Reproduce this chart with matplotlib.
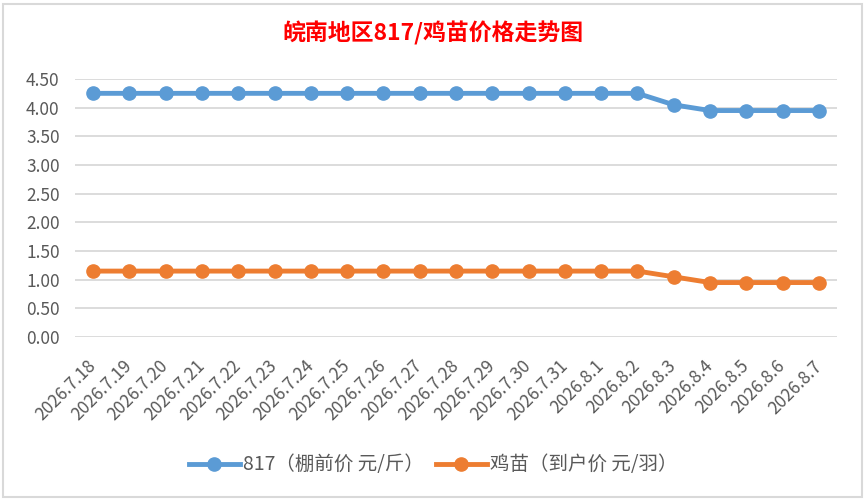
import matplotlib.pyplot as plt
from matplotlib.patches import Rectangle

plt.rcParams['font.family'] = ['Noto Sans CJK SC', 'DejaVu Sans']

# data
dates = ["2026.7.18", "2026.7.19", "2026.7.20", "2026.7.21", "2026.7.22", "2026.7.23",
         "2026.7.24", "2026.7.25", "2026.7.26", "2026.7.27", "2026.7.28", "2026.7.29",
         "2026.7.30", "2026.7.31", "2026.8.1", "2026.8.2", "2026.8.3", "2026.8.4",
         "2026.8.5", "2026.8.6", "2026.8.7"]
price_817 = [4.25, 4.25, 4.25, 4.25, 4.25, 4.25, 4.25, 4.25, 4.25, 4.25,
             4.25, 4.25, 4.25, 4.25, 4.25, 4.25, 4.05, 3.95, 3.95, 3.95, 3.95]
price_chick = [1.15, 1.15, 1.15, 1.15, 1.15, 1.15, 1.15, 1.15, 1.15, 1.15,
               1.15, 1.15, 1.15, 1.15, 1.15, 1.15, 1.05, 0.95, 0.95, 0.95, 0.95]
yticks = [0.0, 0.5, 1.0, 1.5, 2.0, 2.5, 3.0, 3.5, 4.0, 4.5]

label_817 = "817（棚前价 元/斤）"
label_chick = "鸡苗（到户价 元/羽）"
title = "皖南地区817/鸡苗价格走势图"

fig = plt.figure(figsize=(8.67, 5.01), dpi=100)
fig.patches.append(Rectangle((0.004, 0.008), 0.99, 0.984, transform=fig.transFigure,
                             fill=False, edgecolor="#d9d9d9", linewidth=1.5))

ax = fig.add_axes([0.0865, 0.3273, 0.8789, 0.515])
x = list(range(len(dates)))
ax.plot(x, price_817, color="#5B9BD5", linewidth=3.5, marker='o', markersize=9.5,
        label=label_817, zorder=3)
ax.plot(x, price_chick, color="#ED7D31", linewidth=3.5, marker='o', markersize=9.5,
        label=label_chick, zorder=3)

ax.set_xlim(-0.5, len(dates) - 0.5)
ax.set_ylim(0, 4.5)
ax.set_yticks(yticks)
ax.set_yticklabels([f"{v:.2f}" for v in yticks])
ax.set_xticks(x)
ax.set_xticklabels(dates, rotation=45, ha='right', va='center', rotation_mode='anchor')
ax.tick_params(axis='both', length=0, labelsize=12.5, labelcolor="#595959")
ax.tick_params(axis='y', pad=11)
ax.tick_params(axis='x', pad=19)
ax.grid(axis='y', color="#d9d9d9", linewidth=1.3)
ax.set_axisbelow(True)
for s in ax.spines.values():
    s.set_visible(False)

fig.text(0.5, 0.933, title, color="red", fontsize=16.5, fontweight='bold',
         ha='center', va='center')

fig.legend(loc='center', bbox_to_anchor=(0.5, 0.072), ncol=2, frameon=False,
           fontsize=14, labelcolor="#595959", handlelength=2.6,
           columnspacing=0.6, handletextpad=0.2)

fig.savefig("out.png", dpi=100)
